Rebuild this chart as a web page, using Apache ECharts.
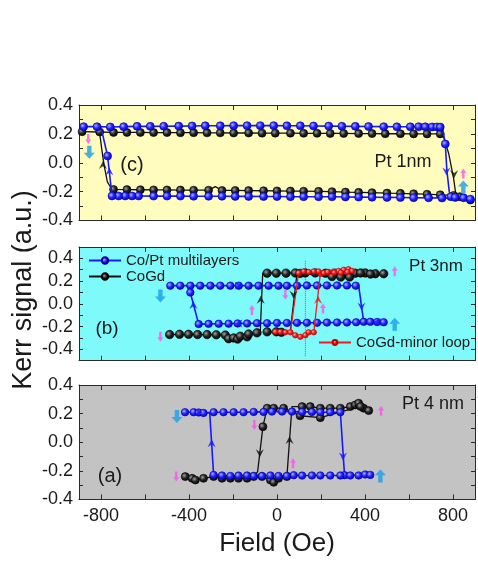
<!DOCTYPE html>
<html><head><meta charset="utf-8">
<script src="https://cdn.jsdelivr.net/npm/echarts@6/dist/echarts.min.js"></script>
<style>html,body{margin:0;padding:0;background:#fff}#c{width:478px;height:561px}</style>
</head><body><div id="c"></div>
<script>
// ---------- axis ticks / labels ----------
const xTickValues = [-800,-600,-400,-200,0,200,400,600,800];
const xLabelValues = [-800,-400,0,400,800];
const yLabelValues = [-0.4,-0.2,0,0.2,0.4];

// ---------- panel (c) Pt 1nm ----------  [field Oe, Kerr, (0 = trace vertex without recorded point)]
const cBlue = [
[-879,0.25],[-818,0.25],[-758,0.248],[-697,0.25],[-636,0.252],[-576,0.252],[-515,0.253],[-447,0.254],[-386,0.255],[-326,0.256],[-258,0.256],[-197,0.257],[-136,0.257],[-76,0.257],[-15,0.257],[45,0.256],[106,0.256],[166,0.255],[235,0.254],[295,0.253],[356,0.252],[416,0.251],[485,0.25],[545,0.249],[606,0.249],[644,0.25],[674,0.249],[705,0.248],[727,0.248],[742,0.247],
[752,0.24,0],[765,0.13],[772,-0.05,0],[783,-0.2,0],[790,-0.235],[810,-0.24],[848,-0.243],[879,-0.252],
[750,-0.244],[689,-0.243],[621,-0.242],[561,-0.241],[500,-0.24],[432,-0.239],[371,-0.238],[311,-0.237],[250,-0.236],[189,-0.236],[121,-0.235],[61,-0.235],[0,-0.234],[-61,-0.234],[-129,-0.233],[-190,-0.233],[-250,-0.232],[-311,-0.232],[-379,-0.232],[-439,-0.231],[-500,-0.231],[-561,-0.231],[-629,-0.23],[-659,-0.23],[-690,-0.23],[-720,-0.23],[-750,-0.23],
[-770,0.047],[-800,0.245,0]
];
const cBlack = [
[-886,0.215],[-806,0.213],[-743,0.21],[-682,0.21],[-621,0.21],[-561,0.209],[-500,0.209],[-439,0.208],[-379,0.208],[-318,0.207],[-258,0.207],[-197,0.206],[-129,0.206],[-68,0.205],[-8,0.205],[61,0.205],[121,0.204],[182,0.204],[242,0.203],[303,0.203],[371,0.202],[432,0.202],[492,0.201],[561,0.201],[621,0.2],[682,0.2],[742,0.2],
[755,0.19,0],[780,0.066,0],[803,-0.11,0],[812,-0.21,0],[830,-0.235],[879,-0.258],
[803,-0.226],[742,-0.222],[682,-0.218],[621,-0.215],[561,-0.212],[500,-0.21],[432,-0.207],[371,-0.205],[311,-0.203],[250,-0.2],[189,-0.198],[121,-0.197],[61,-0.196],[0,-0.195],[-61,-0.194],[-129,-0.193],[-190,-0.192],[-250,-0.192],[-280,-0.165,0],[-311,-0.19],[-379,-0.19],[-439,-0.189],[-500,-0.188],[-561,-0.188],[-621,-0.187],[-682,-0.186],[-743,-0.185],
[-757,-0.168,0],[-771,-0.133,0],[-786,-0.016,0],[-797,0.1,0],[-806,0.205,0]
];
const cPinkArrows = [[-858,0.164,'down'],[847,-0.074,'up']];
const cBlueArrows = [[-853,0.073,'down'],[847,-0.168,'up']];
const cBlueChevrons = [[-762,-0.06,'up'],[770,-0.06,'down']];
const cBlackChevrons = [[-791,-0.016,'up'],[805,-0.08,'down']];

// ---------- panel (b) Pt 3nm ----------
const bBlue = [
[-485,0.16],[-440,0.16],[-394,0.16],[-349,0.16],[-303,0.16],[-258,0.16],[-212,0.16],[-174,0.16],[-129,0.16],[-84,0.16],[-38,0.16],[7,0.16],[45,0.16],[91,0.16],[136,0.162],[182,0.162],[227,0.162],[273,0.162],[318,0.162],[358,0.16],
[372,0.15,0],[394,-0.158],[424,-0.158],[455,-0.16],[485,-0.162],
[360,-0.162],[318,-0.164],[273,-0.164],[227,-0.165],[182,-0.166],[136,-0.166],[91,-0.167],[45,-0.168],[0,-0.168],[-45,-0.17],[-91,-0.17],[-136,-0.172],[-179,-0.172],[-220,-0.174],[-265,-0.175],[-311,-0.176],[-356,-0.178],
[-364,-0.178,0],[-394,0.1],[-394,0.16,0]
];
const bBlack = [
[-488,-0.27],[-443,-0.268],[-402,-0.268],[-361,-0.27],[-318,-0.27],[-276,-0.272],[-235,-0.275],[-220,-0.306],[-197,-0.3],[-179,-0.31],[-167,-0.285],[-136,-0.29],[-129,-0.265],[-91,-0.255],
[-76,-0.245,0],[-65,0.27,0],
[-45,0.27],[-3,0.27],[41,0.27],[83,0.272],[129,0.272],[174,0.272],[220,0.27],[265,0.268],[310,0.268],[356,0.27],[401,0.272],[447,0.265],[485,0.265],
[425,0.262],[380,0.272],[330,0.236],[290,0.236],[250,0.24],[105,0.268],
[91,0.27,0],[60,-0.248,0],[20,-0.25],[-3,-0.246],[-45,-0.246]
];
const bRedMinor = [
[-8,-0.246],[15,-0.246],[38,-0.25],[61,-0.25],[83,-0.276],[106,-0.29],[129,-0.276],[144,-0.25],[167,-0.25],
[176,-0.25,0],[197,0.265],
[212,0.272],[235,0.28],[258,0.285],[280,0.29],[303,0.3],[325,0.305],[341,0.29],
[320,0.28],[290,0.275],[260,0.275],[230,0.28],[189,0.285],[167,0.285],[144,0.28],[121,0.285],[98,0.272],
[91,0.27,0],[61,-0.25,0]
];
const bRedGuide = [[129,0.375],[129,-0.47]];
const bPinkArrows = [[535,0.287,'up'],[-530,-0.29,'down'],[38,0.08,'down'],[-114,-0.053,'up'],[209,-0.04,'up']];
const bBlueArrows = [[-530,0.07,'down'],[535,-0.18,'up']];
const bBlueChevrons = [[-380,-0.01,'up'],[384,-0.024,'down'],[-174,0.16,'right'],[-174,-0.172,'left'],[455,-0.16,'left']];
const bBlackChevrons = [[-74,0.035,'up'],[75,0.08,'down']];
const bRedChevrons = [[187,0.035,'up']];

// ---------- panel (a) Pt 4 nm ----------
const aBlue = [
[-418,0.21],[-379,0.21],[-356,0.208],[-334,0.205],[-288,0.21],[-243,0.21],[-197,0.21],[-152,0.21],[-106,0.212],[-61,0.212],[-23,0.214],[23,0.214],[68,0.214],[114,0.212],[159,0.212],[197,0.21],[242,0.21],[288,0.21],
[307,-0.23],[333,-0.232],[371,-0.232],[401,-0.225],[424,-0.228],
[288,-0.232],[242,-0.232],[197,-0.232],[159,-0.232],[114,-0.233],[76,-0.23],[45,-0.235],[7,-0.235],[-30,-0.232],[-68,-0.235],[-106,-0.235],[-136,-0.232],[-175,-0.233],[-212,-0.235],[-250,-0.232],[-288,-0.228],
[-306,0.21,0]
];
const aBlack = [
[-417,-0.24],[-386,-0.252],[-371,-0.264],[-334,-0.252],[-288,-0.24],[-250,-0.252],[-212,-0.252],[-175,-0.252],[-136,-0.252],[-106,-0.24],[-68,-0.24],[-30,-0.264],[-15,-0.28],[7,-0.252],[45,-0.24],
[68,0.249,0],
[114,0.249],[151,0.249],[197,0.238],[242,0.238],[288,0.238],[333,0.249],[356,0.261],[371,0.273],[394,0.238],[417,0.221],
[380,0.25],[197,0.172],[105,0.185],[30,0.238],[-15,0.238],[-45,0.238],
[-64,0.109],[-88,-0.205,0],[-110,-0.25,0]
];
const aPinkArrows = [[-458,-0.24,'down'],[473,0.22,'up'],[-103,0.12,'down'],[73,-0.147,'up']];
const aBlueArrows = [[-455,0.18,'down'],[470,-0.235,'up']];
const aBlueChevrons = [[-297,-0.007,'up'],[300,-0.1,'down'],[-356,0.21,'right']];
const aBlackChevrons = [[-78,-0.077,'down'],[57,0.016,'up']];

// ---------- styling / building ----------
const FONT = "'Liberation Sans', Arial, Helvetica, sans-serif";
const TXT = '#1a1a1a';
const BLUE = '#1818ff', BLACK = '#111111', RED = '#ee1c1c', PINK = '#ff50f0', CYAN = '#1b9ee8';
const ARROW = 'path://M5,0 L10,5.5 L7,5.5 L7,12 L3,12 L3,5.5 L0,5.5 Z';
const CHEV = 'path://M0,10 L5,0 L10,10 L5,6.5 Z';
const ROT = {up:0, down:180, left:90, right:-90};

function ball(light, mid, dark){
  return {type:'radial', x:0.38, y:0.38, r:0.7,
    colorStops:[{offset:0,color:light},{offset:0.45,color:mid},{offset:1,color:dark}]};
}
function pts(arr){
  return arr.map(p => (p.length > 2 && p[2] === 0) ? {value:[p[0],p[1]], symbol:'none'} : [p[0],p[1]]);
}
function lineSeries(name, arr, g, lineColor, fill, border, size, width, z){
  return {type:'line', name, xAxisIndex:2*g, yAxisIndex:2*g, data:pts(arr),
    symbol:'circle', symbolSize:size, showSymbol:true, showAllSymbol:true,
    lineStyle:{color:lineColor, width:width},
    itemStyle:{color:fill, borderColor:border, borderWidth:0.6},
    z:z, animation:false, silent:true};
}
function marks(arr, g, color, size, path){
  return {type:'scatter', xAxisIndex:2*g, yAxisIndex:2*g, symbol:path, symbolSize:size,
    data:arr.map(a => ({value:[a[0],a[1]], symbolRotate:ROT[a[2]]})),
    itemStyle:{color:color}, z:6, animation:false, silent:true};
}

const grids = [
  {left:79, right:3, top:105, height:115.5, show:true, backgroundColor:'#fffcbd', borderWidth:0},
  {left:79, right:3, top:247, height:113.7, show:true, backgroundColor:'#7ffafa', borderWidth:0},
  {left:79, right:3, top:385, height:114.5, show:true, backgroundColor:'#c3c3c3', borderWidth:0}
];
const yRanges = [[-0.4,0.4],[-0.5,0.5],[-0.4,0.4]];
const axLine = {show:true, onZero:false, lineStyle:{color:'#2a2a2a', width:1}};

const xAxes = [], yAxes = [];
for (let g = 0; g < 3; g++){
  ['bottom','top'].forEach(pos => {
    xAxes.push({type:'value', gridIndex:g, min:-900, max:900, position:pos,
      axisLine:axLine,
      axisTick:{show:true, inside:true, length:5, customValues:xTickValues, lineStyle:{color:'#2a2a2a'}},
      axisLabel:{show:(g===2 && pos==='bottom'), customValues:xLabelValues, margin:8,
        fontSize:18, fontFamily:FONT, color:TXT},
      splitLine:{show:false},
      name:(g===2 && pos==='bottom') ? 'Field (Oe)' : '',
      nameLocation:'middle', nameGap:31,
      nameTextStyle:{fontSize:26, fontFamily:FONT, color:TXT}
    });
  });
  ['left','right'].forEach(pos => {
    yAxes.push({type:'value', gridIndex:g, min:yRanges[g][0], max:yRanges[g][1], interval:0.1, position:pos,
      axisLine:axLine,
      axisTick:{show:true, inside:true, length:4, lineStyle:{color:'#2a2a2a'}},
      axisLabel:{show:pos==='left', customValues:yLabelValues, margin:6,
        formatter:v => Number(v).toFixed(1), fontSize:18, fontFamily:FONT, color:TXT},
      splitLine:{show:false}
    });
  });
}

const blueBall = ball('#b0b0ff', '#2424ff', '#0000b4');
const blackBall = ball('#a0a0a0', '#252525', '#000000');
const redBall = ball('#ffb0b0', '#f02020', '#c00000');

const series = [
  // panel c
  lineSeries('CoGd (Pt 1nm)', cBlack, 0, BLACK, blackBall, '#000', 8, 1.3, 3),
  lineSeries('Co/Pt multilayers (Pt 1nm)', cBlue, 0, BLUE, blueBall, '#0000a0', 8, 1.6, 4),
  marks(cPinkArrows, 0, PINK, [6,10], ARROW),
  marks(cBlueArrows, 0, CYAN, [11,13], ARROW),
  marks(cBlueChevrons, 0, BLUE, [8,8], CHEV),
  marks(cBlackChevrons, 0, BLACK, [8,8], CHEV),
  // panel b
  {type:'line', xAxisIndex:2, yAxisIndex:2, data:bRedGuide, symbol:'none',
   lineStyle:{color:'#d04040', width:1, type:'dotted'}, z:2, animation:false, silent:true},
  lineSeries('CoGd', bBlack, 1, BLACK, blackBall, '#000', 8.5, 1.3, 3),
  lineSeries('Co/Pt multilayers', bBlue, 1, BLUE, blueBall, '#0000a0', 7.5, 1.6, 4),
  lineSeries('CoGd-minor loop', bRedMinor, 1, RED, redBall, '#c00000', 5.5, 1.3, 5),
  marks(bPinkArrows, 1, PINK, [6,10], ARROW),
  marks(bBlueArrows, 1, CYAN, [11,13], ARROW),
  marks(bBlueChevrons, 1, BLUE, [8,8], CHEV),
  marks(bBlackChevrons, 1, BLACK, [8,8], CHEV),
  marks(bRedChevrons, 1, RED, [8,8], CHEV),
  // panel a
  lineSeries('CoGd (Pt 4nm)', aBlack, 2, BLACK, blackBall, '#000', 8, 1.3, 3),
  lineSeries('Co/Pt multilayers (Pt 4nm)', aBlue, 2, BLUE, blueBall, '#0000a0', 7.5, 1.6, 4),
  marks(aPinkArrows, 2, PINK, [6,10], ARROW),
  marks(aBlueArrows, 2, CYAN, [11,13], ARROW),
  marks(aBlueChevrons, 2, BLUE, [8,8], CHEV),
  marks(aBlackChevrons, 2, BLACK, [8,8], CHEV)
];

function label(text, x, y, size){
  return {type:'text', x:x, y:y, z:10, silent:true,
    style:{text:text, fontSize:size, fontFamily:FONT, fill:TXT, align:'center', verticalAlign:'middle'}};
}

const option = {
  animation:false,
  backgroundColor:'#ffffff',
  grid:grids,
  xAxis:xAxes,
  yAxis:yAxes,
  legend:[
    {data:['Co/Pt multilayers','CoGd'], orient:'vertical', left:88, top:253, itemWidth:32, itemHeight:8,
     itemGap:1, padding:0, textStyle:{fontSize:15, fontFamily:FONT, color:TXT}, selectedMode:false},
    {data:['CoGd-minor loop'], orient:'horizontal', left:318, top:335, itemWidth:32, itemHeight:6,
     padding:0, textStyle:{fontSize:15, fontFamily:FONT, color:TXT}, selectedMode:false}
  ],
  graphic:[
    {type:'text', x:24, y:290, rotation:Math.PI/2, z:10, silent:true,
     style:{text:'Kerr signal (a.u.)', fontSize:27, fontFamily:FONT, fill:TXT, align:'center', verticalAlign:'middle'}},
    label('(c)', 132, 165, 20),
    label('Pt 1nm', 403, 162, 18),
    label('Pt 3nm', 436, 266, 17),
    label('(b)', 107, 329, 19),
    label('Pt 4 nm', 433, 404, 18),
    label('(a)', 110, 476, 20)
  ],
  series:series
};

const chart = echarts.init(document.getElementById('c'), null, {renderer:'canvas'});
chart.setOption(option);
</script></body></html>
